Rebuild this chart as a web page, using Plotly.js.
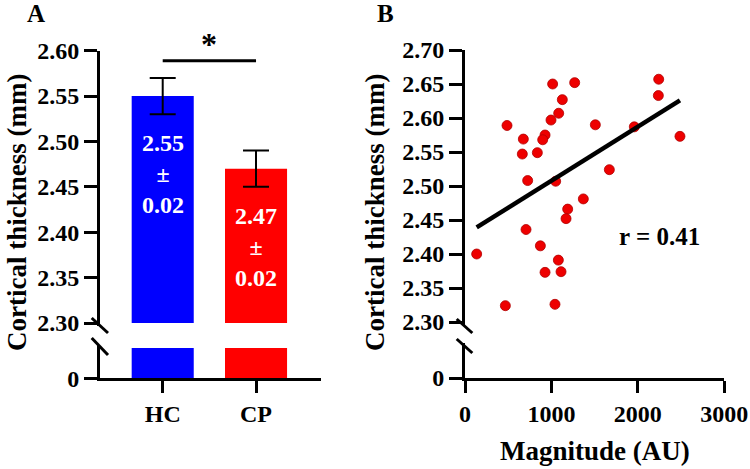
<!DOCTYPE html>
<html>
<head>
<meta charset="utf-8">
<script src="https://cdn.plot.ly/plotly-3.0.1.min.js"></script>
<style>html,body{margin:0;padding:0;background:#fff;}#chart{width:750px;height:469px;}</style>
</head>
<body>
<div id="chart"></div>
<script>
// ---- Data ----
const categories = ['HC', 'CP'];
const meanThickness = [2.55, 2.47];
const semThickness = [0.02, 0.02];
const barColors = ['#0000FF', '#FF0000'];

const magnitude = [1014, 1269, 2241, 2237, 1126, 1084, 995, 486, 1508, 1959,
                   2487, 675, 926, 899, 663, 837, 725, 1049, 1670, 1369,
                   1188, 1169, 706, 135, 872, 1080, 926, 1111, 467, 1041];
const thickness = [2.650, 2.652, 2.657, 2.633, 2.627, 2.607, 2.597, 2.589, 2.590, 2.587,
                   2.573, 2.569, 2.575, 2.568, 2.547, 2.549, 2.508, 2.507, 2.524, 2.481,
                   2.466, 2.452, 2.436, 2.400, 2.412, 2.391, 2.373, 2.374, 2.324, 2.326];
const rLabel = 'r = 0.41';

const yTicksA = [2.30, 2.35, 2.40, 2.45, 2.50, 2.55, 2.60];
const yTicksB = [2.30, 2.35, 2.40, 2.45, 2.50, 2.55, 2.60, 2.65, 2.70];
const xTicksB = [0, 1000, 2000, 3000];

// ---- helpers ----
const W = 750, H = 469;
const px = v => v / W;
const py = v => 1 - v / H;
const FONT = '"Liberation Serif", "Times New Roman", serif';
const f = (size, color) => ({family: FONT, size: size, color: color || '#000', weight: 'bold'});

// linear regression
const n = magnitude.length;
const mx = magnitude.reduce((a, b) => a + b, 0) / n;
const my = thickness.reduce((a, b) => a + b, 0) / n;
let sxy = 0, sxx = 0;
for (let i = 0; i < n; i++) { sxy += (magnitude[i] - mx) * (thickness[i] - my); sxx += (magnitude[i] - mx) ** 2; }
const slope = sxy / sxx, intercept = my - slope * mx;
const fitX = [Math.min(...magnitude), Math.max(...magnitude)];
const fitY = fitX.map(x => intercept + slope * x);

const traces = [
  {type: 'bar', x: categories, y: meanThickness, xaxis: 'x', yaxis: 'y', width: 0.665,
   marker: {color: barColors, line: {width: 0}},
   error_y: {type: 'data', array: semThickness, visible: true, color: '#000', thickness: 2, width: 13},
   hoverinfo: 'x+y', showlegend: false},
  {type: 'bar', x: categories, y: meanThickness, xaxis: 'x', yaxis: 'y2', width: 0.665,
   marker: {color: barColors, line: {width: 0}}, hoverinfo: 'skip', showlegend: false},
  {type: 'scatter', mode: 'markers', x: magnitude, y: thickness, xaxis: 'x2', yaxis: 'y3',
   marker: {color: '#EE0000', size: 10, line: {color: '#B00000', width: 0.8}}, showlegend: false},
  {type: 'scatter', mode: 'lines', x: fitX, y: fitY, xaxis: 'x2', yaxis: 'y3',
   line: {color: '#000', width: 4.5}, hoverinfo: 'skip', showlegend: false},
  // same points on the lower (broken) segment: all above its range, so clipped away
  {type: 'scatter', mode: 'markers', x: magnitude, y: thickness, xaxis: 'x2', yaxis: 'y4',
   marker: {color: '#EE0000', size: 10}, hoverinfo: 'skip', showlegend: false}
];

const axisCommon = {showline: true, linecolor: '#000', linewidth: 3, ticks: 'outside', tickcolor: '#000',
  tickwidth: 3, showgrid: false, zeroline: false, tickfont: f(24), fixedrange: true};

const ann = (text, x, y, size, extra) => Object.assign({text: text, xref: 'paper', yref: 'paper',
  x: px(x), y: py(y), xanchor: 'center', yanchor: 'middle', showarrow: false, font: f(size)}, extra || {});

const layout = {
  width: W, height: H, margin: {l: 0, r: 0, t: 0, b: 0},
  paper_bgcolor: '#fff', plot_bgcolor: 'rgba(0,0,0,0)', barmode: 'overlay', showlegend: false,
  xaxis: Object.assign({}, axisCommon, {domain: [px(100), px(320.7)], anchor: 'y2', type: 'category',
    range: [-0.672, 1.693], ticklen: 12}),
  yaxis: Object.assign({}, axisCommon, {domain: [py(323), py(50.7)], anchor: 'x', range: [2.30, 2.60],
    tickvals: yTicksA, tickformat: '.2f', ticklen: 13}),
  yaxis2: Object.assign({}, axisCommon, {domain: [py(378.3), py(348)], anchor: 'x', range: [0, 1],
    tickvals: [0], ticklen: 13}),
  xaxis2: Object.assign({}, axisCommon, {domain: [px(465), px(724.3)], anchor: 'y4', range: [0, 3000],
    tickvals: xTicksB, ticklen: 12}),
  yaxis3: Object.assign({}, axisCommon, {domain: [py(322), py(50)], anchor: 'x2', range: [2.30, 2.70],
    tickvals: yTicksB, tickformat: '.2f', ticklen: 13}),
  yaxis4: Object.assign({}, axisCommon, {domain: [py(378), py(346)], anchor: 'x2', range: [0, 1],
    tickvals: [0], ticklen: 13}),
  annotations: [
    ann('A', 36, 14, 25),
    ann('B', 385, 14, 25),
    ann('Cortical thickness (mm)', 17, 213, 27, {textangle: -90}),
    ann('Cortical thickness (mm)', 375, 213, 27, {textangle: -90}),
    ann('Magnitude (AU)', 595, 451, 27),
    ann(rLabel, 659, 237, 25),
    {text: '*', xref: 'x', yref: 'paper', x: 0.5, y: py(44), xanchor: 'center', yanchor: 'middle',
     showarrow: false, font: f(32)}
  ].concat(categories.map((c, i) => ({
    text: meanThickness[i].toFixed(2) + '<br>±<br>' + semThickness[i].toFixed(2),
    xref: 'x', yref: 'y', x: c, y: meanThickness[i], xanchor: 'center', yanchor: 'top', yshift: -32,
    showarrow: false, font: f(24, '#fff')
  }))),
  shapes: [
    // significance bar
    {type: 'line', xref: 'x', yref: 'paper', x0: 0, x1: 1, y0: py(60.7), y1: py(60.7), line: {color: '#000', width: 3}},
    // axis breaks A
    {type: 'line', xref: 'paper', yref: 'paper', x0: px(91.7), y0: py(318), x1: px(108), y1: py(333), line: {color: '#000', width: 3}},
    {type: 'line', xref: 'paper', yref: 'paper', x0: px(91.7), y0: py(338), x1: px(108), y1: py(355), line: {color: '#000', width: 3}},
    {type: 'line', xref: 'paper', yref: 'paper', x0: px(98.5), y0: py(322), x1: px(98.5), y1: py(326), line: {color: '#000', width: 3}},
    {type: 'line', xref: 'paper', yref: 'paper', x0: px(98.5), y0: py(345), x1: px(98.5), y1: py(349), line: {color: '#000', width: 3}},
    // axis breaks B
    {type: 'line', xref: 'paper', yref: 'paper', x0: px(456.7), y0: py(319), x1: px(472.3), y1: py(333), line: {color: '#000', width: 3}},
    {type: 'line', xref: 'paper', yref: 'paper', x0: px(456.7), y0: py(339), x1: px(472.3), y1: py(353), line: {color: '#000', width: 3}},
    {type: 'line', xref: 'paper', yref: 'paper', x0: px(463.5), y0: py(321), x1: px(463.5), y1: py(325), line: {color: '#000', width: 3}},
    {type: 'line', xref: 'paper', yref: 'paper', x0: px(463.5), y0: py(343), x1: px(463.5), y1: py(347), line: {color: '#000', width: 3}}
  ]
};

Plotly.newPlot('chart', traces, layout, {displayModeBar: false});
</script>
</body>
</html>
